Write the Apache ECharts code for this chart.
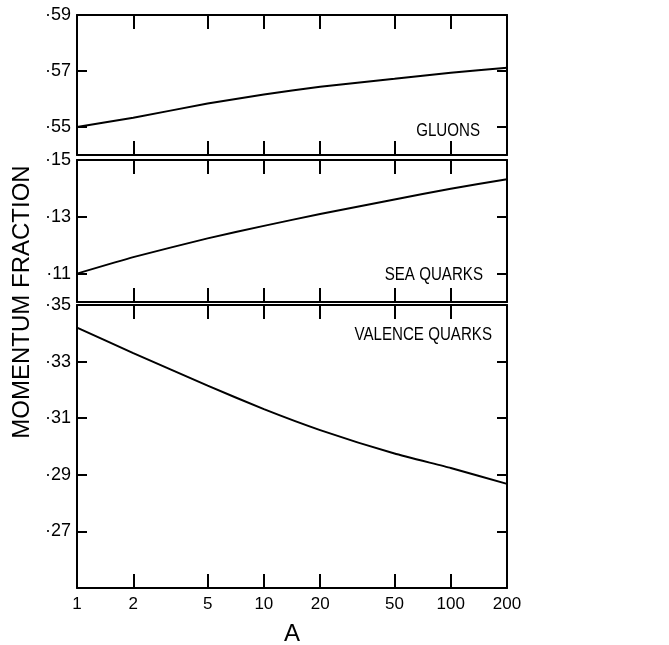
<!DOCTYPE html>
<html><head><meta charset="utf-8">
<script src="https://cdn.jsdelivr.net/npm/echarts@6/dist/echarts.min.js"></script>
<style>html,body{margin:0;padding:0;background:#fff}#c{width:669px;height:645px}</style>
</head><body><div id="c"></div>
<script>
const A = [1, 2, 5, 10, 20, 50, 100, 200];
const gluons = [0.5500, 0.5533, 0.5584, 0.5616, 0.5644, 0.5672, 0.5694, 0.5712];
const seaQuarks = [0.1100, 0.1158, 0.1224, 0.1268, 0.1310, 0.1361, 0.1399, 0.1432];
const valenceQuarks = [0.3420, 0.3330, 0.3215, 0.3132, 0.3058, 0.2975, 0.2924, 0.2868];
const xTicks = [1, 2, 5, 10, 20, 50, 100, 200];
const gluonTicks = [0.55, 0.57, 0.59];
const seaTicks = [0.11, 0.13, 0.15];
const valenceTicks = [0.27, 0.29, 0.31, 0.33, 0.35];
const panelNames = ['GLUONS', 'SEA QUARKS', 'VALENCE QUARKS'];
const yRanges = [[0.54, 0.59], [0.10, 0.15], [0.25, 0.35]];

const FONT = 'Liberation Sans';
const grids = [
  {left: 77, width: 430, top: 15, height: 140, outerBoundsMode: 'none', containLabel: false},
  {left: 77, width: 430, top: 160, height: 142, outerBoundsMode: 'none', containLabel: false},
  {left: 77, width: 430, top: 305, height: 283, outerBoundsMode: 'none', containLabel: false}
];
const yTickSets = [gluonTicks, seaTicks, valenceTicks];
const series = [gluons, seaQuarks, valenceQuarks];

const xAxis = [], yAxis = [], ser = [];
grids.forEach((g, i) => {
  const last = i === 2;
  const common = {
    type: 'log', logBase: 10, min: 1, max: 200, gridIndex: i,
    axisLine: {show: true, lineStyle: {color: '#000', width: 2}},
    axisTick: {show: true, inside: true, length: 14, customValues: xTicks.slice(1, -1), lineStyle: {color: '#000', width: 2}},
    minorTick: {show: false}, splitLine: {show: false}
  };
  xAxis.push(Object.assign({}, common, {
    position: 'bottom',
    axisLabel: {show: last, customValues: xTicks, color: '#000', fontFamily: FONT, fontSize: 17, margin: 8, formatter: v => String(Math.round(v))},
    name: last ? 'A' : '', nameLocation: 'middle', nameGap: 34,
    nameTextStyle: {color: '#000', fontFamily: FONT, fontSize: 24}
  }));
  xAxis.push(Object.assign({}, common, {position: 'top', axisLabel: {show: false}}));
  const yc = {
    type: 'value', gridIndex: i, min: yRanges[i][0], max: yRanges[i][1],
    axisLine: {show: true, lineStyle: {color: '#000', width: 2}},
    axisTick: {show: true, inside: true, length: 10, customValues: yTickSets[i], lineStyle: {color: '#000', width: 2}},
    splitLine: {show: false}
  };
  yAxis.push(Object.assign({}, yc, {
    position: 'left',
    axisLabel: {show: true, customValues: yTickSets[i], color: '#000', fontFamily: FONT, fontSize: 18, margin: 6,
      formatter: v => '·' + Math.round(v * 100)}
  }));
  yAxis.push(Object.assign({}, yc, {position: 'right', axisLabel: {show: false}}));
  ser.push({
    type: 'line', xAxisIndex: 2 * i, yAxisIndex: 2 * i, smooth: 0.15, symbol: 'none',
    lineStyle: {color: '#000', width: 2},
    data: A.map((a, k) => [a, series[i][k]])
  });
});

const chart = echarts.init(document.getElementById('c'), null, {renderer: 'canvas'});
chart.setOption({
  animation: false,
  backgroundColor: '#fff',
  grid: grids,
  xAxis: xAxis,
  yAxis: yAxis,
  series: ser,
  graphic: [
    {type: 'text', x: 480, y: 131, scaleX: 0.84, style: {text: panelNames[0], fill: '#000', font: '18px ' + FONT, align: 'right', verticalAlign: 'middle'}},
    {type: 'text', x: 483, y: 275, scaleX: 0.84, style: {text: panelNames[1], fill: '#000', font: '18px ' + FONT, align: 'right', verticalAlign: 'middle'}},
    {type: 'text', x: 492, y: 335, scaleX: 0.84, style: {text: panelNames[2], fill: '#000', font: '18px ' + FONT, align: 'right', verticalAlign: 'middle'}},
    {type: 'text', x: 22, y: 302, rotation: Math.PI / 2,
      style: {text: 'MOMENTUM FRACTION', fill: '#000', font: '24px ' + FONT, align: 'center', verticalAlign: 'middle'}}
  ]
});
</script></body></html>
